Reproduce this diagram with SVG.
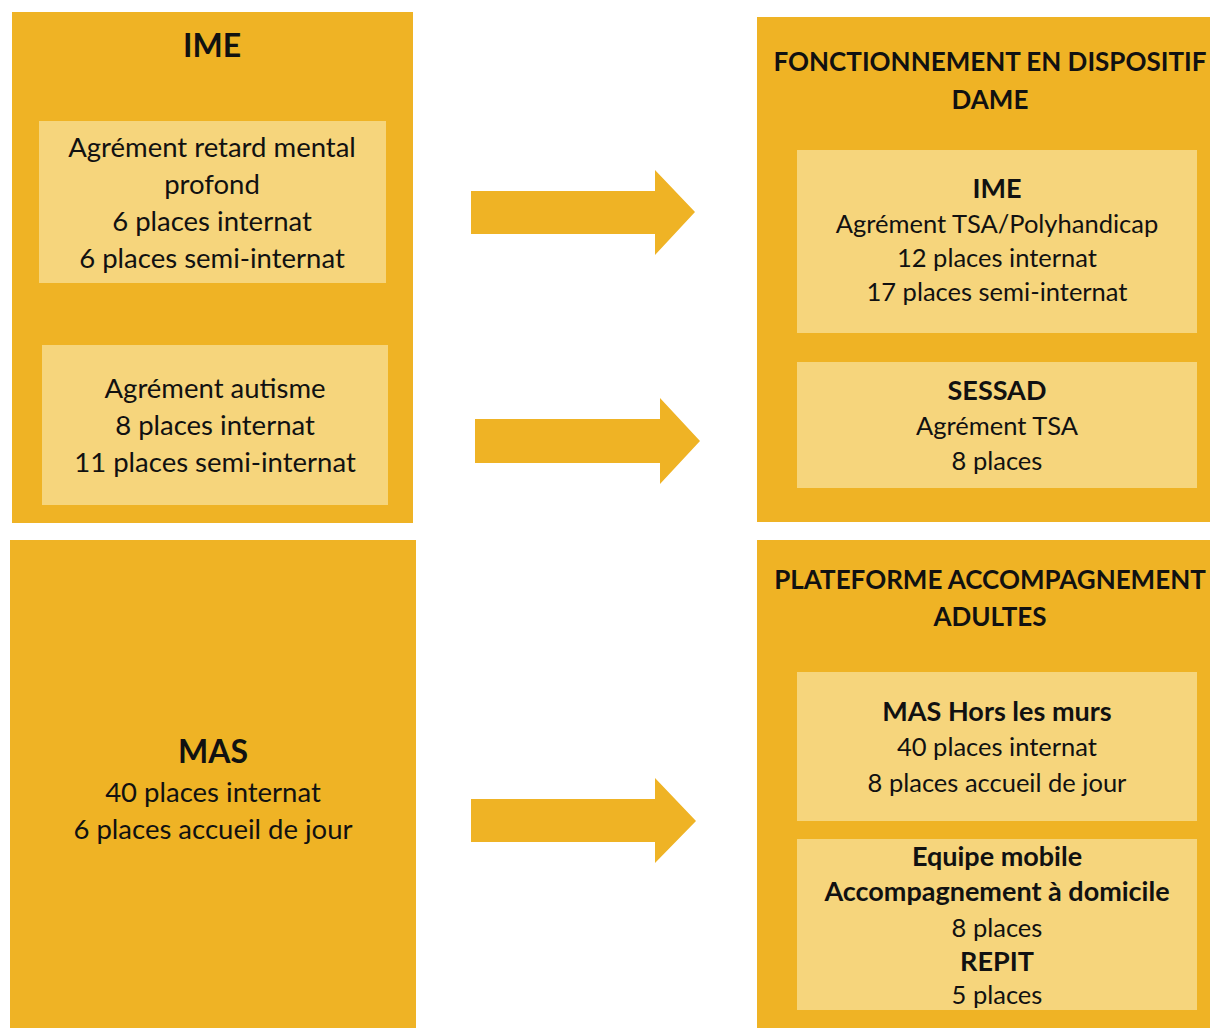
<svg xmlns="http://www.w3.org/2000/svg" width="1210" height="1028" viewBox="0 0 1210 1028">
<style>
.outer{fill:#EFB325}
.inner{fill:#F6D57C}
.arrow{fill:#EFB325}
text{font-family:Lato,"Liberation Sans",sans-serif;fill:#111111;text-anchor:middle}
.t1{font-size:27.5px}
.t2{font-size:25.5px}
.b{font-weight:bold;font-size:27px}
.h1{font-size:32px;font-weight:bold}
.h2{font-size:26px;font-weight:bold}
</style>
<rect width="1210" height="1028" fill="#ffffff"/>
<g id="ime-old">
<rect class="outer" x="12" y="12" width="401" height="511"/>
<text class="h1" x="212" y="57">IME</text>
<g id="ime-old-rmp">
<rect class="inner" x="39" y="121" width="347" height="162"/>
<text class="t1" x="212" y="157">Agrément retard mental</text>
<text class="t1" x="212" y="194">profond</text>
<text class="t1" x="212" y="231">6 places internat</text>
<text class="t1" x="212" y="268">6 places semi-internat</text>
</g>
<g id="ime-old-autisme">
<rect class="inner" x="42" y="345" width="346" height="160"/>
<text class="t1" x="215" y="398">Agrément autisme</text>
<text class="t1" x="215" y="435">8 places internat</text>
<text class="t1" x="215" y="472">11 places semi-internat</text>
</g>
</g>
<g id="mas-old">
<rect class="outer" x="10" y="540" width="406" height="500"/>
<text class="h1" x="213" y="763">MAS</text>
<text class="t1" x="213" y="802">40 places internat</text>
<text class="t1" x="213" y="839">6 places accueil de jour</text>
</g>
<g id="dame">
<rect class="outer" x="757" y="17" width="460" height="505"/>
<text class="h2" x="990" y="71">FONCTIONNEMENT EN DISPOSITIF</text>
<text class="h2" x="990" y="109">DAME</text>
<g id="dame-ime">
<rect class="inner" x="797" y="150" width="400" height="183"/>
<text class="b" x="997" y="198">IME</text>
<text class="t2" x="997" y="233">Agrément TSA/Polyhandicap</text>
<text class="t2" x="997" y="267">12 places internat</text>
<text class="t2" x="997" y="301">17 places semi-internat</text>
</g>
<g id="dame-sessad">
<rect class="inner" x="797" y="362" width="400" height="126"/>
<text class="b" x="997" y="400">SESSAD</text>
<text class="t2" x="997" y="435">Agrément TSA</text>
<text class="t2" x="997" y="470">8 places</text>
</g>
</g>
<g id="plateforme">
<rect class="outer" x="757" y="540" width="460" height="500"/>
<text class="h2" x="990" y="589">PLATEFORME ACCOMPAGNEMENT</text>
<text class="h2" x="990" y="626">ADULTES</text>
<g id="mas-hlm">
<rect class="inner" x="797" y="672" width="400" height="149"/>
<text class="b" x="997" y="721">MAS Hors les murs</text>
<text class="t2" x="997" y="756">40 places internat</text>
<text class="t2" x="997" y="792">8 places accueil de jour</text>
</g>
<g id="equipe-mobile">
<rect class="inner" x="797" y="839" width="400" height="171"/>
<text class="b" x="997" y="866">Equipe mobile</text>
<text class="b" x="997" y="901">Accompagnement à domicile</text>
<text class="t2" x="997" y="937">8 places</text>
<text class="b" x="997" y="971">REPIT</text>
<text class="t2" x="997" y="1004">5 places</text>
</g>
</g>
<g id="connectors">
<polygon class="arrow" points="471,191 655,191 655,170 695,212 655,255 655,234 471,234"/>
<polygon class="arrow" points="475,419 660,419 660,398 700,441 660,484 660,463 475,463"/>
<polygon class="arrow" points="471,799 655,799 655,778 696,821 655,863 655,842 471,842"/>
</g>
</svg>
